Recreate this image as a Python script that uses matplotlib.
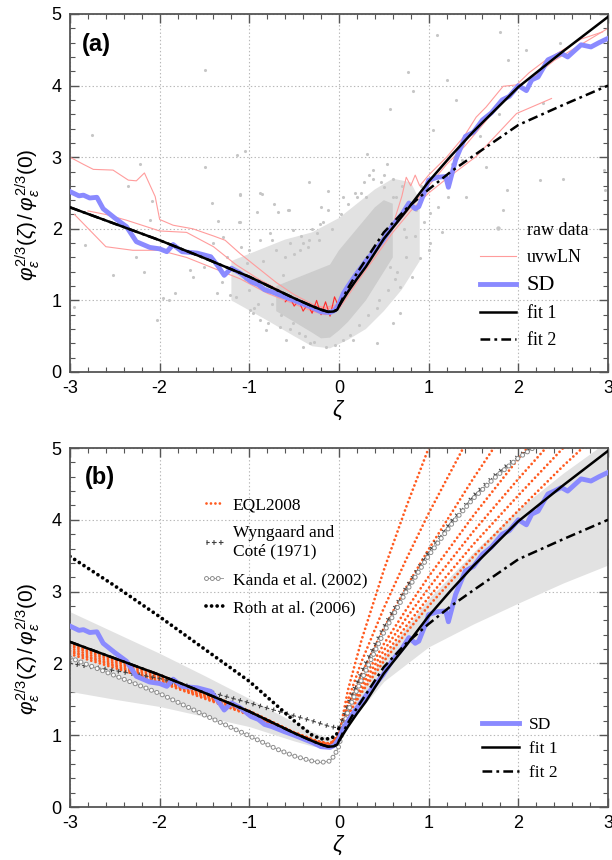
import numpy as np
import matplotlib
matplotlib.use('Agg')
import matplotlib.pyplot as plt
from matplotlib.lines import Line2D

plt.rcParams['font.family'] = ['Liberation Sans', 'DejaVu Sans']
plt.rcParams['mathtext.fontset'] = 'custom'
plt.rcParams['mathtext.rm'] = 'Liberation Sans'
plt.rcParams['mathtext.it'] = 'Liberation Sans:italic'
plt.rcParams['axes.unicode_minus'] = False
plt.rcParams['lines.scale_dashes'] = False

# ---------------- data ----------------
# fit 1 / fit 2 (identical for zeta < 0)
fit_zeta = [-3, -2.5, -2, -1.5, -1, -0.7, -0.5, -0.3, -0.2, -0.12, -0.06, -0.02,
            0, 0.05, 0.1, 0.2, 0.3, 0.5, 0.75, 1, 1.25, 1.5, 2, 2.5, 3]
fit1 = [2.30, 2.07, 1.84, 1.59, 1.33, 1.15, 1.03, 0.92, 0.87, 0.84, 0.845, 0.87,
        0.92, 1.02, 1.12, 1.30, 1.47, 1.86, 2.25, 2.66, 3.02, 3.36, 3.98, 4.48, 4.96]
fit2 = [2.30, 2.07, 1.84, 1.59, 1.33, 1.15, 1.03, 0.92, 0.87, 0.84, 0.845, 0.87,
        0.92, 1.05, 1.17, 1.38, 1.57, 1.95, 2.28, 2.55, 2.80, 3.02, 3.45, 3.73, 4.00]

# SD (bin medians)
sd_zeta = [-3, -2.9, -2.85, -2.78, -2.7, -2.63, -2.5, -2.37, -2.26, -2.11, -2.0, -1.92,
           -1.85, -1.75, -1.58, -1.43, -1.35, -1.28, -1.2, -1.1, -0.98, -0.9, -0.83,
           -0.75, -0.61, -0.5, -0.4, -0.3, -0.2, -0.1, -0.05, 0, 0.05, 0.1, 0.2, 0.3,
           0.4, 0.49, 0.6, 0.7, 0.78, 0.85, 0.89, 0.95, 1.0, 1.1, 1.19, 1.22, 1.3,
           1.41, 1.5, 1.6, 1.7, 1.82, 1.9, 2.0, 2.09, 2.15, 2.22, 2.33, 2.4, 2.48,
           2.55, 2.62, 2.7, 2.81, 2.9, 3.0]
sd_vals = [2.52, 2.46, 2.47, 2.43, 2.44, 2.28, 2.15, 2.03, 1.82, 1.74, 1.72, 1.68,
           1.78, 1.68, 1.66, 1.61, 1.48, 1.35, 1.45, 1.38, 1.26, 1.22, 1.15,
           1.12, 1.05, 1.0, 0.95, 0.9, 0.84, 0.83, 0.86, 0.95, 1.1, 1.2, 1.38, 1.55,
           1.7, 1.84, 2.05, 2.2, 2.36, 2.28, 2.31, 2.5, 2.68, 2.72, 2.73, 2.58, 2.96,
           3.29, 3.35, 3.52, 3.62, 3.80, 3.85, 4.0, 3.93, 4.08, 4.12, 4.36, 4.4, 4.45,
           4.4, 4.48, 4.57, 4.54, 4.6, 4.66]

# uvwLN curves
uvw1_zeta = [-3, -2.85, -2.74, -2.52, -2.35, -2.26, -2.17, -2.05, -2.0, -1.85, -1.63,
             -1.4, -1.27, -1.1, -0.9, -0.7, -0.5, -0.3, -0.15, 0, 0.1, 0.2, 0.3, 0.45,
             0.6, 0.7, 0.75, 0.8, 0.85, 0.9, 1.0, 1.2, 1.4, 1.53, 1.64, 1.83, 1.98,
             2.12, 2.31, 2.5, 2.7, 2.94]
uvw1_vals = [3.0, 2.9, 2.83, 2.82, 2.68, 2.67, 2.78, 2.45, 2.13, 2.05, 2.0,
             1.9, 1.84, 1.65, 1.45, 1.25, 1.08, 0.95, 0.88, 0.92, 1.15, 1.35, 1.55, 1.8,
             2.05, 2.45, 2.72, 2.6, 2.75, 2.6, 2.75, 3.0, 3.3, 3.56, 3.7, 3.99, 4.01,
             4.18, 4.36, 4.5, 4.65, 4.75]
uvw2_zeta = [-2.95, -2.6, -2.3, -2.0, -1.7, -1.4, -1.1, -0.8, -0.5, -0.3, -0.15, 0,
             0.2, 0.4, 0.6, 0.8, 1.0, 1.2, 1.53, 1.98, 2.37]
uvw2_vals = [2.2, 1.75, 1.7, 1.7, 1.6, 1.45, 1.3, 1.1, 0.95, 0.85, 0.8, 0.88,
             1.25, 1.6, 1.95, 2.25, 2.5, 2.7, 3.01, 3.61, 3.82]
uvw3_zeta = [-2.8, -2.6, -2.37, -2.0, -1.7, -1.4, -1.15, -0.9, -0.6, -0.35, -0.15, 0,
             0.2, 0.4, 0.6, 0.8, 1.0, 1.2, 1.4, 1.6, 1.8, 2.0, 2.2, 2.4, 2.6, 2.8, 3.0]
uvw3_vals = [2.25, 2.2, 2.12, 1.97, 1.95, 1.75, 1.5, 1.3, 1.1, 0.95, 0.9, 0.95,
             1.3, 1.65, 2.0, 2.3, 2.6, 2.9, 3.15, 3.45, 3.75, 4.0, 4.15, 4.35, 4.5, 4.65, 4.8]
spike_zeta = [-0.6, -0.55, -0.5, -0.45, -0.4, -0.35, -0.3, -0.25, -0.2, -0.15, -0.1,
              -0.05, 0]
spike_vals = [0.98, 1.05, 0.92, 1.0, 0.85, 0.95, 0.82, 1.0, 0.8, 0.98, 0.78, 1.05, 0.9]

# raw data: outlines of the dense cloud (halo and core) and scattered points
halo_zeta = [-1.2, -0.9, -0.6, -0.3, 0, 0.2, 0.4, 0.6, 0.8, 0.9,
             0.9, 0.7, 0.5, 0.3, 0.1, -0.1, -0.3, -0.5, -0.8, -1.2]
halo_vals = [1.55, 1.7, 1.85, 1.95, 2.15, 2.35, 2.55, 2.7, 2.65, 2.4,
             1.55, 1.15, 0.85, 0.6, 0.45, 0.33, 0.36, 0.5, 0.72, 1.0]
core_zeta = [-0.7, -0.5, -0.3, -0.1, 0, 0.1, 0.2, 0.3, 0.4, 0.5, 0.6,
             0.6, 0.5, 0.4, 0.3, 0.2, 0.1, 0, -0.1, -0.2, -0.3, -0.5, -0.7]
core_vals = [1.2, 1.3, 1.4, 1.5, 1.7, 1.85, 2.0, 2.15, 2.3, 2.4, 2.35,
             1.6, 1.4, 1.2, 1.0, 0.85, 0.7, 0.58, 0.48, 0.47, 0.55, 0.7, 0.85]
raw_zeta = [-1.49, -2.76, -2.22, -1.49, -1.14, -1.05, -2.35, -2.09, -1.42, -1.10, -0.88,
            -0.34, -0.12, -0.92, -0.68, -0.57, -1.35, -1.10, -2.11, -2.83, -2.52, -2.26,
            -2.18, -2.03, -1.96, -1.83, -1.90, -1.66, -1.63, -1.51, -1.40, -1.29, -1.09,
            -1.03, -1.22, -1.36, -2.96, -0.75, -0.51, -0.40, -0.21, -0.81, -0.66, -0.51,
            -0.32, -0.88, -0.99,
            1.09, 1.79, 2.09, 2.46, 1.89, 0.77, 0.57, 1.20, 0.83, 1.31, 1.78, 2.28, 1.57,
            1.37, 1.26, 1.64, 2.24, 2.50, 2.97, 2.95, 1.05, 1.42, 1.22, 1.01, 0.86, 1.83,
            1.87, 0.75, 1.01, 0.90, 0.81, 0.68, 0.31, 0.38, 0.47, 0.20, 0.64, 0.57,
            -1.10, -0.86, -0.73, -0.56, -0.12, -1.12, -0.88, -0.77, -0.55, -0.44, -0.33,
            -0.25, -0.96, -0.79, -0.59, -0.40, 0.34, 0.53, 0.50, 0.24, 0.30, 0.60, 0.42,
            0.16, 0.60, 0.68,
            -0.85, -0.8, -0.75, -0.7, -0.65, -0.6, -0.55, -0.5, -0.45, -0.42, -0.38,
            -0.35, -0.3, -0.28, -0.22, -0.18, -0.15, -0.08, -0.05, 0.02, 0.05, 0.1,
            0.12, 0.18, 0.22, 0.28, 0.32, 0.38, 0.45, 0.5, 0.55, 0.6, 0.65, 0.7, 0.75,
            0.8, 0.85, 0.72, 0.62, 0.42, -0.62, -0.9, -1.0, -1.05,
            -1.3, -1.25, -1.15, -1.0, -0.95, 0.95, 1.0, 1.1, 0.92, 1.15, 0.05, -0.2]
raw_vals = [4.22, 3.31, 2.90, 2.86, 3.03, 3.08, 2.60, 2.39, 2.36, 2.48, 2.50,
            2.66, 2.53, 2.24, 2.23, 2.26, 2.11, 2.10, 2.12, 1.78, 1.36, 1.61,
            1.40, 0.72, 1.03, 1.10, 1.00, 1.42, 1.33, 1.47, 1.80, 1.89, 1.75,
            1.52, 1.07, 1.10, 0.91, 1.84, 1.98, 1.80, 2.07, 0.59, 0.63, 0.68,
            0.40, 0.73, 0.87,
            4.71, 4.75, 4.50, 4.59, 4.36, 4.19, 3.68, 4.08, 3.92, 3.80, 3.61, 3.75, 3.29,
            2.96, 2.91, 2.87, 2.68, 2.70, 2.54, 2.82, 3.38, 2.45, 2.45, 2.22, 2.26, 2.26,
            2.54, 1.89, 1.80, 1.59, 1.33, 1.19, 3.05, 2.82, 2.66, 2.45, 2.45, 1.47,
            2.47, 2.49, 2.35, 2.26, 2.26, 2.10, 1.84, 1.94, 1.80, 1.70, 1.84,
            1.94, 0.82, 0.68, 0.45, 0.35, 2.75, 2.91, 2.59, 2.50, 2.45, 2.45, 0.40,
            0.45, 0.68, 0.82,
            1.55, 1.2, 0.95, 1.7, 0.8, 1.6, 0.6, 1.65, 0.55, 1.9, 0.5,
            1.75, 2.0, 0.42, 1.85, 2.1, 0.35, 2.0, 0.38, 2.2, 0.45, 2.35,
            0.52, 2.5, 0.65, 2.65, 0.8, 2.7, 1.0, 2.75, 1.15, 2.7, 1.4, 2.6, 1.6,
            2.35, 1.9, 2.0, 1.3, 0.9, 1.35, 0.95, 1.15, 1.3,
            1.25, 1.6, 1.05, 1.7, 0.9, 2.1, 1.7, 2.3, 2.6, 1.95, 2.45, 2.3]

# panel (b): uncertainty band
band_zeta = [-3, -2.5, -2, -1.5, -1, -0.5, -0.3, -0.1, 0, 0.2, 0.5, 1, 1.5, 2, 2.5, 3]
band_hi = [2.72, 2.43, 2.14, 1.83, 1.51, 1.18, 1.05, 0.95, 1.0, 1.55, 2.1, 2.9, 3.55,
           4.15, 4.65, 5.1]
band_lo = [1.61, 1.50, 1.40, 1.26, 1.12, 0.92, 0.85, 0.82, 0.9, 1.3, 1.75, 2.23, 2.55,
           2.84, 3.12, 3.37]

# EQL2008 family
eql_zeta = [-3, -2, -1, -0.5, -0.25, -0.1, 0, 0.1, 0.25, 0.5, 0.75, 1, 1.5, 2, 2.5, 3]
eql_curves = [
    [2.28, 1.84, 1.34, 1.04, 0.92, 0.88, 1.0, 1.63, 2.32, 3.30, 4.18, 5.00, 6.53, 7.96, 9.32, 10.6],
    [2.26, 1.83, 1.33, 1.04, 0.92, 0.88, 1.0, 1.49, 2.02, 2.77, 3.45, 4.09, 5.27, 6.38, 7.43, 8.44],
    [2.24, 1.81, 1.32, 1.03, 0.91, 0.87, 1.0, 1.41, 1.85, 2.49, 3.06, 3.59, 4.58, 5.51, 6.39, 7.24],
    [2.21, 1.79, 1.31, 1.03, 0.91, 0.87, 1.0, 1.35, 1.73, 2.27, 2.75, 3.21, 4.06, 4.85, 5.60, 6.32],
    [2.18, 1.77, 1.30, 1.02, 0.90, 0.87, 1.0, 1.32, 1.68, 2.18, 2.63, 3.05, 3.84, 4.57, 5.27, 5.94],
    [2.16, 1.76, 1.29, 1.02, 0.90, 0.86, 1.0, 1.30, 1.63, 2.10, 2.52, 2.92, 3.66, 4.34, 5.00, 5.62],
    [2.13, 1.74, 1.28, 1.01, 0.90, 0.86, 1.0, 1.28, 1.59, 2.03, 2.43, 2.80, 3.49, 4.13, 4.75, 5.33],
]

# Wyngaard and Cote (1971)
wc_zeta = [-3, -2.5, -2, -1.5, -1, -0.5, -0.3, -0.1, 0, 0.05, 0.1, 0.2, 0.3, 0.5, 0.75,
           1, 1.25, 1.5, 1.75, 2, 2.2]
wc_vals = [2.0, 1.9, 1.79, 1.62, 1.45, 1.27, 1.2, 1.12, 1.1, 1.25, 1.42, 1.72, 2.0, 2.5,
           3.05, 3.55, 3.97, 4.33, 4.63, 4.88, 5.05]
# Kanda et al. (2002)
kanda_zeta = [-3, -2.5, -2, -1.5, -1, -0.7, -0.5, -0.3, -0.2, -0.1, -0.05, 0, 0.05, 0.1,
              0.2, 0.3, 0.5, 0.75, 1, 1.25, 1.5, 1.75, 2, 2.2]
kanda_vals = [2.08, 1.83, 1.58, 1.28, 0.99, 0.81, 0.71, 0.64, 0.62, 0.64, 0.72, 0.85,
              1.12, 1.33, 1.63, 1.9, 2.43, 3.0, 3.5, 3.93, 4.3, 4.6, 4.86, 5.03]
# Roth et al. (2006)
roth_zeta = [-3, -2.5, -2, -1.5, -1, -0.7, -0.5, -0.3, -0.2, -0.1, -0.03, 0]
roth_vals = [3.49, 3.08, 2.65, 2.2, 1.75, 1.42, 1.2, 1.0, 0.95, 0.95, 1.0, 1.1]

# ---------------- styling ----------------
C_RAW = '#c6c6c6'
C_UVW = '#ff9c9c'
C_SD = '#8a8aff'
C_EQL = '#ff5a1f'
C_SPINE = '#555555'
SERIF = ['Liberation Serif', 'DejaVu Serif']

ROTH_KW = dict(color='black', lw=2.7, linestyle=(0, (0.01, 4.0)), dash_capstyle='round')
EQL_KW = dict(color=C_EQL, lw=2.0, linestyle=(0, (0.01, 3.2)), dash_capstyle='round')
WC_A = dict(color='#404040', lw=3.4, linestyle=(0, (0.8, 4.2)), dash_capstyle='butt')
WC_B = dict(color='#404040', lw=0.8, linestyle=(1.1, (3.4, 1.6)), dash_capstyle='butt')
KA_LINE = dict(color='#a0a0a0', lw=0.7)
KA_OUT = dict(color='#8c8c8c', lw=3.6, linestyle=(0, (0.01, 4.2)), dash_capstyle='round')
KA_IN = dict(color='white', lw=2.2, linestyle=(0, (0.01, 4.2)), dash_capstyle='round')


def style_axes(ax):
    ax.set_xlim(-3, 3)
    ax.set_ylim(0, 5)
    ax.set_xticks(np.arange(-3, 4, 1))
    ax.set_yticks(np.arange(0, 6, 1))
    ax.set_xticks(np.arange(-3, 3.01, 0.2), minor=True)
    ax.set_yticks(np.arange(0, 5.01, 0.2), minor=True)
    ax.grid(True, which='major', linestyle=':', color='#b8b8b8', lw=0.8)
    ax.set_axisbelow(True)
    for s in ax.spines.values():
        s.set_color(C_SPINE)
        s.set_linewidth(1.3)
    ax.tick_params(which='both', direction='in', top=True, right=True,
                   color=C_SPINE, labelsize=13)
    ax.tick_params(which='major', length=6.5, width=1.0, pad=6)
    ax.tick_params(which='minor', length=3.5, width=0.8)
    ax.set_xlabel(r'$\zeta$', fontsize=16, labelpad=1)
    ax.set_ylabel(r'$\varphi_{\varepsilon}^{2/3}(\zeta)\,/\,\varphi_{\varepsilon}^{2/3}(0)$',
                  fontsize=15)
    ax.yaxis.set_label_coords(-0.052, 0.44)


fig = plt.figure(figsize=(6.12, 8.6), dpi=100)
ax1 = fig.add_axes([70 / 612, 1 - 372 / 860, 538 / 612, 358 / 860])
ax2 = fig.add_axes([70 / 612, 1 - 807 / 860, 538 / 612, 359 / 860])

# ---------------- panel (a) ----------------
ax1.fill(halo_zeta, halo_vals, color='#e2e2e2', lw=0, zorder=1)
ax1.fill(core_zeta, core_vals, color='#cdcdcd', lw=0, zorder=1)
ax1.scatter(raw_zeta, raw_vals, s=5, c=C_RAW, linewidths=0, zorder=1)
for zz, vv in [(uvw1_zeta, uvw1_vals), (uvw2_zeta, uvw2_vals), (uvw3_zeta, uvw3_vals)]:
    ax1.plot(zz, vv, color=C_UVW, lw=0.8, zorder=2)
ax1.plot(spike_zeta, spike_vals, color='#ff2a2a', lw=0.8, zorder=2)
ax1.plot(sd_zeta, sd_vals, color=C_SD, lw=3.5, zorder=3)
ax1.plot(fit_zeta, fit1, color='black', lw=1.8, zorder=4)
ax1.plot(fit_zeta, fit2, color='black', lw=1.8, linestyle=(0, (7, 3, 2, 3)), zorder=4)
style_axes(ax1)
ax1.text(0.022, 0.947, '(a)', transform=ax1.transAxes, fontsize=17,
         fontweight='bold', va='top', ha='left')

h_a = [Line2D([], [], color=C_RAW, marker='o', ms=2.2, linestyle='none'),
       Line2D([], [], color=C_UVW, lw=0.8),
       Line2D([], [], color=C_SD, lw=3.5),
       Line2D([], [], color='black', lw=1.8),
       Line2D([], [], color='black', lw=1.8, linestyle=(0, (7, 3, 2, 3)))]
leg_a = ax1.legend(h_a, ['raw data', 'uvwLN', 'SD', 'fit 1', 'fit 2'],
                   loc='upper left', bbox_to_anchor=(0.745, 0.445), frameon=False,
                   borderpad=0, handlelength=2.0, handletextpad=0.6,
                   labelspacing=0.56, prop={'family': SERIF, 'size': 13})
leg_a.get_texts()[2].set_fontsize(16)

# ---------------- panel (b) ----------------
ax2.fill_between(band_zeta, band_lo, band_hi, color='#e2e2e2', lw=0, zorder=1)
for curve in eql_curves:
    ax2.plot(eql_zeta, curve, zorder=2, **EQL_KW)
ax2.plot(wc_zeta, wc_vals, zorder=2, **WC_A)
ax2.plot(wc_zeta, wc_vals, zorder=2, **WC_B)
ax2.plot(kanda_zeta, kanda_vals, zorder=2, **KA_LINE)
ax2.plot(kanda_zeta, kanda_vals, zorder=2, **KA_OUT)
ax2.plot(kanda_zeta, kanda_vals, zorder=2, **KA_IN)
ax2.plot(roth_zeta, roth_vals, zorder=2, **ROTH_KW)
ax2.plot(sd_zeta, sd_vals, color=C_SD, lw=3.5, zorder=3)
ax2.plot(fit_zeta, fit1, color='black', lw=1.8, zorder=4)
ax2.plot(fit_zeta, fit2, color='black', lw=1.8, linestyle=(0, (7, 3, 2, 3)), zorder=4)
style_axes(ax2)
ax2.text(0.028, 0.95, '(b)', transform=ax2.transAxes, fontsize=17,
         fontweight='bold', va='top', ha='left')

h_b1 = [Line2D([], [], **EQL_KW),
        (Line2D([], [], **WC_A), Line2D([], [], **WC_B)),
        (Line2D([], [], **KA_LINE), Line2D([], [], **KA_OUT), Line2D([], [], **KA_IN)),
        Line2D([], [], **ROTH_KW)]
leg_b1 = ax2.legend(h_b1, ['EQL2008', 'Wyngaard and\nCoté (1971)', 'Kanda et al. (2002)',
                           'Roth at al. (2006)'],
                    loc='upper left', bbox_to_anchor=(0.236, 0.888), frameon=False,
                    borderpad=0, handlelength=1.0, handletextpad=0.55,
                    labelspacing=0.7, prop={'family': SERIF, 'size': 12.5})
ax2.add_artist(leg_b1)
h_b2 = [Line2D([], [], color=C_SD, lw=3.5),
        Line2D([], [], color='black', lw=1.8),
        Line2D([], [], color='black', lw=1.8, linestyle=(0, (7, 3, 2, 3)))]
ax2.legend(h_b2, ['SD', 'fit 1', 'fit 2'], loc='upper left',
           bbox_to_anchor=(0.75, 0.275), frameon=False, borderpad=0,
           handlelength=2.1, handletextpad=0.6, labelspacing=0.45,
           prop={'family': SERIF, 'size': 12.5})

fig.savefig('out.png', dpi=100)
